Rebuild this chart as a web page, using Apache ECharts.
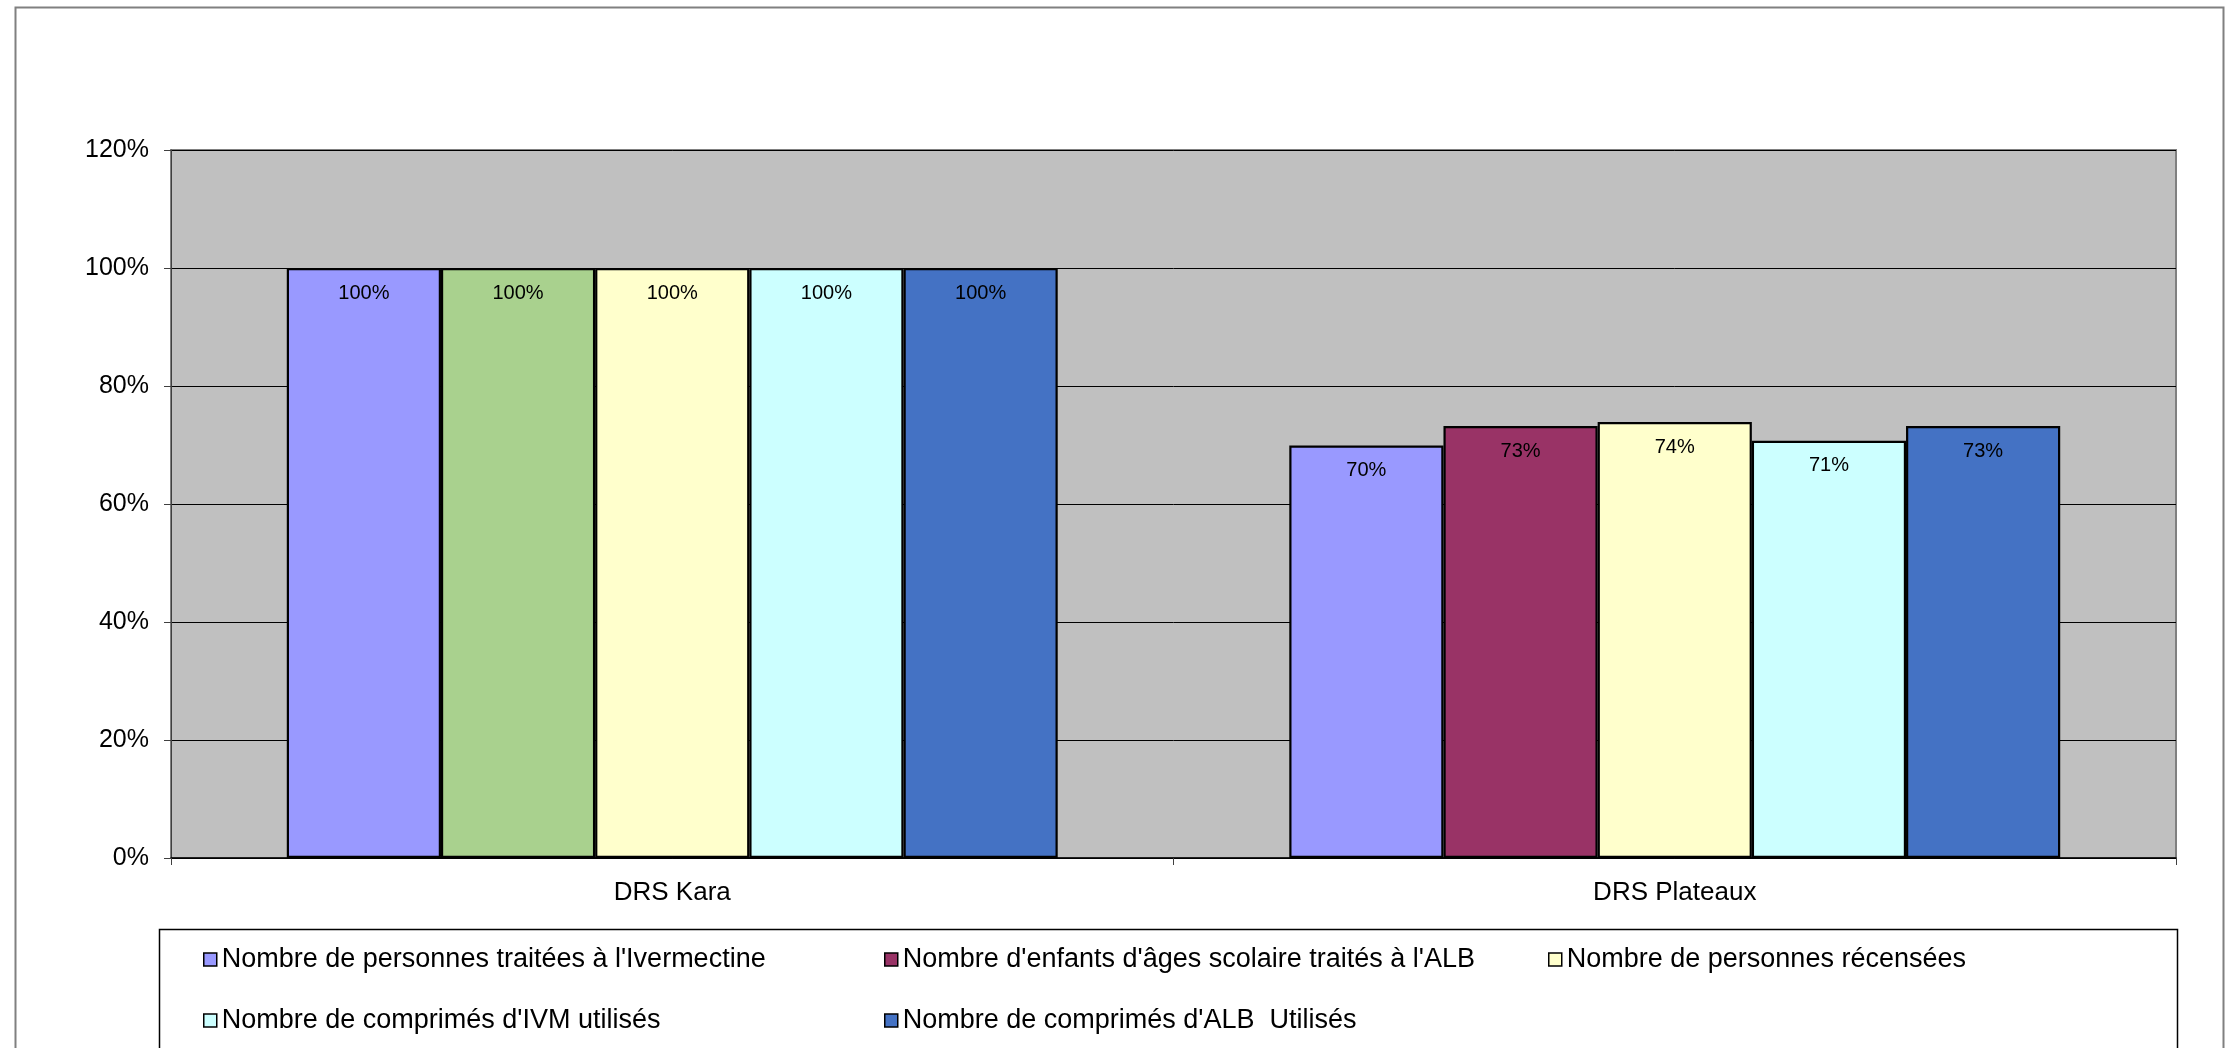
<!DOCTYPE html>
<html>
<head>
<meta charset="utf-8">
<script src="https://cdn.jsdelivr.net/npm/echarts@6/dist/echarts.min.js"></script>
<style>
  html, body { margin: 0; padding: 0; background: #ffffff; }
  #chart { width: 2226px; height: 1048px; }
</style>
</head>
<body>
<div id="chart"></div>
<script>
// Regions (categories)
const categories = ['DRS Kara', 'DRS Plateaux'];

// Series names
const seriesNames = [
  "Nombre de personnes traitées à l'Ivermectine",
  "Nombre d'enfants d'âges scolaire traités à l'ALB",
  "Nombre de personnes récensées",
  "Nombre de comprimés d'IVM utilisés",
  "Nombre de comprimés d'ALB  Utilisés"
];

// Coverage values in percent, one array per series: [Kara, Plateaux]
const ivermectinTreated = [100, 69.9];
const schoolChildrenAlb = [100, 73.2];
const peopleCensused = [100, 73.9];
const ivmTablets = [100, 70.7];
const albTablets = [100, 73.2];

// Y axis tick values
const yTicks = [0, 20, 40, 60, 80, 100, 120];

const seriesValues = [ivermectinTreated, schoolChildrenAlb, peopleCensused, ivmTablets, albTablets];
const seriesColors = ['#9999FF', '#993366', '#FFFFCC', '#CCFFFF', '#4472C4'];
// The Kara bar of the second series is filled green
const pointColorOverrides = { 1: { 0: '#A9D18E' } };

const FONT = "'Liberation Sans', Arial, Helvetica, sans-serif";

const series = seriesNames.map((name, i) => ({
  name: name,
  type: 'bar',
  barGap: '0%',
  barCategoryGap: '23.1%',
  itemStyle: { color: seriesColors[i], borderColor: '#000000', borderWidth: 2.2 },
  label: {
    show: true,
    position: 'insideTop',
    distance: 15,
    fontFamily: FONT,
    fontSize: 20,
    color: '#000000',
    formatter: p => Math.round(p.value) + '%'
  },
  data: seriesValues[i].map((v, j) => {
    const c = pointColorOverrides[i] && pointColorOverrides[i][j];
    return c ? { value: v, itemStyle: { color: c } } : v;
  })
}));

const legendText = { fontFamily: FONT, fontSize: 27, color: '#000000', lineHeight: 27 };
function legendColumn(names, left) {
  return {
    orient: 'vertical',
    left: left,
    top: 946,
    padding: 0,
    itemGap: 34,
    itemWidth: 13,
    itemHeight: 13,
    icon: 'rect',
    selectedMode: false,
    itemStyle: { borderColor: '#000000', borderWidth: 1.5 },
    textStyle: legendText,
    data: names
  };
}

const chart = echarts.init(document.getElementById('chart'), null, { renderer: 'canvas' });
chart.setOption({
  animation: false,
  backgroundColor: '#ffffff',
  textStyle: { fontFamily: FONT },
  graphic: [
    { type: 'rect', left: 13, top: 5, shape: { width: 2208, height: 1100 },
      style: { fill: 'none', stroke: '#808080', lineWidth: 2 }, silent: true },
    { type: 'rect', left: 157, top: 927, shape: { width: 2018, height: 200 },
      style: { fill: 'none', stroke: '#000000', lineWidth: 1.5 }, silent: true }
  ],
  grid: {
    left: 171, top: 150, right: 50, bottom: 190,
    show: true,
    backgroundColor: '#C0C0C0',
    borderColor: '#808080',
    borderWidth: 2
  },
  legend: [
    legendColumn([seriesNames[0], seriesNames[3]], 203),
    legendColumn([seriesNames[1], seriesNames[4]], 884),
    legendColumn([seriesNames[2]], 1548)
  ],
  xAxis: {
    type: 'category',
    data: categories,
    axisLine: { show: true, lineStyle: { color: '#000000', width: 1.5 } },
    axisTick: { show: true, length: 7, lineStyle: { color: '#404040', width: 1 } },
    axisLabel: { fontFamily: FONT, fontSize: 26, color: '#000000', margin: 22 }
  },
  yAxis: {
    type: 'value',
    min: yTicks[0],
    max: yTicks[yTicks.length - 1],
    interval: yTicks[1] - yTicks[0],
    axisLine: { show: true, lineStyle: { color: '#404040', width: 1 } },
    axisTick: { show: true, length: 7, lineStyle: { color: '#404040', width: 1 } },
    splitLine: { show: true, lineStyle: { color: '#000000', width: 1 } },
    axisLabel: { fontFamily: FONT, fontSize: 25, color: '#000000', margin: 22,
      formatter: v => v + '%' }
  },
  series: series
});
</script>
</body>
</html>
